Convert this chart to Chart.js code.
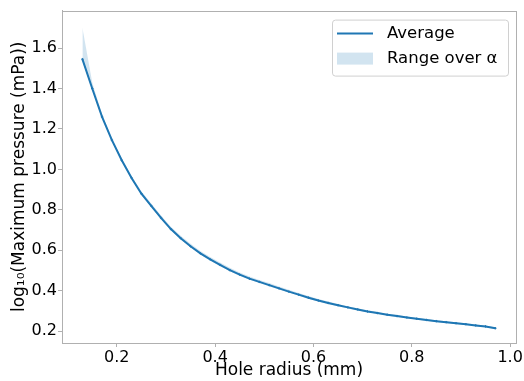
<!DOCTYPE html>
<html>
<head>
<meta charset="utf-8">
<script src="https://cdn.jsdelivr.net/npm/chart.js@4/dist/chart.umd.min.js"></script>
<style>
  html, body { margin: 0; padding: 0; background: #fff; }
  #wrap { width: 524px; height: 381px; position: relative; }
</style>
</head>
<body>
<div id="wrap"><canvas id="c" width="524" height="381"></canvas></div>
<script>
// ---- data ----
const radius = [0.13,0.15,0.17,0.19,0.21,0.23,0.25,0.27,0.29,0.31,0.33,0.35,0.37,0.39,0.41,0.43,0.45,0.47,0.49,0.51,0.53,0.55,0.57,0.59,0.61,0.63,0.65,0.67,0.69,0.71,0.73,0.75,0.77,0.79,0.81,0.83,0.85,0.87,0.89,0.91,0.93,0.95,0.97];
const average = [1.545,1.40,1.26,1.145,1.045,0.958,0.88,0.82,0.76,0.705,0.66,0.62,0.585,0.555,0.528,0.502,0.48,0.46,0.444,0.428,0.412,0.396,0.381,0.366,0.352,0.34,0.329,0.318,0.308,0.298,0.29,0.282,0.275,0.268,0.262,0.256,0.25,0.245,0.24,0.235,0.229,0.224,0.215];
const rangeUpper = [1.70,1.43,1.272,1.155,1.055,0.968,0.892,0.832,0.772,0.717,0.672,0.632,0.597,0.567,0.540,0.514,0.491,0.471,0.454,0.438,0.421,0.405,0.389,0.374,0.359,0.347,0.335,0.324,0.314,0.304,0.295,0.287,0.280,0.273,0.267,0.261,0.255,0.250,0.245,0.240,0.234,0.229,0.220];
const rangeLower = [1.535,1.392,1.253,1.139,1.039,0.952,0.874,0.814,0.754,0.699,0.654,0.614,0.579,0.549,0.522,0.497,0.475,0.455,0.439,0.423,0.407,0.391,0.376,0.361,0.347,0.335,0.324,0.313,0.303,0.294,0.286,0.278,0.271,0.264,0.258,0.252,0.246,0.241,0.236,0.231,0.225,0.220,0.211];
const xTicks = [0.2,0.4,0.6,0.8,1.0];
const yTicks = [0.2,0.4,0.6,0.8,1.0,1.2,1.4,1.6];
const legendLabels = ['Average','Range over \u03B1'];

const blue = '#1f77b4';
const bandColor = 'rgba(31,119,180,0.2)';
const spine = '#b0b0b0';
const font = "'DejaVu Sans', sans-serif";

const pts = (ys) => radius.map((x, i) => ({x: x, y: ys[i]}));

const frame = {
  id: 'frame',
  afterDraw(chart) {
    const {ctx, chartArea: a} = chart;
    ctx.save();
    ctx.strokeStyle = spine;
    ctx.lineWidth = 1;
    ctx.strokeRect(Math.round(a.left) + 0.5, Math.round(a.top) + 0.5,
                   Math.round(a.right - a.left), Math.round(a.bottom - a.top));
    // legend (matplotlib style)
    const bx = a.right - 184, by = a.top + 9, bw = 176, bh = 56;
    ctx.fillStyle = 'rgba(255,255,255,0.8)';
    ctx.strokeStyle = '#d0d0d0';
    ctx.beginPath();
    ctx.roundRect(bx + 0.5, by + 0.5, bw, bh, 3);
    ctx.fill(); ctx.stroke();
    ctx.strokeStyle = blue; ctx.lineWidth = 2;
    ctx.beginPath(); ctx.moveTo(bx + 5, by + 14); ctx.lineTo(bx + 41, by + 14); ctx.stroke();
    ctx.fillStyle = bandColor;
    ctx.fillRect(bx + 5, by + 33, 36, 12);
    ctx.fillStyle = '#000';
    ctx.font = "16.5px " + font;
    ctx.textBaseline = 'middle';
    ctx.fillText(legendLabels[0], bx + 55, by + 14);
    ctx.fillText(legendLabels[1], bx + 55, by + 39);
    ctx.restore();
  }
};

new Chart(document.getElementById('c'), {
  type: 'line',
  data: {
    datasets: [
      { label: 'lower', data: pts(rangeLower), borderWidth: 0, pointRadius: 0, borderColor: 'rgba(0,0,0,0)', fill: false, tension: 0 },
      { label: legendLabels[1], data: pts(rangeUpper), borderWidth: 0, pointRadius: 0, borderColor: 'rgba(0,0,0,0)', backgroundColor: bandColor, fill: '-1', tension: 0 },
      { label: legendLabels[0], data: pts(average), borderColor: blue, backgroundColor: blue, borderWidth: 2, pointRadius: 1.2, pointStyle: 'cross', pointBorderWidth: 1, pointBorderColor: blue, fill: false, tension: 0 }
    ]
  },
  plugins: [frame],
  options: {
    responsive: false,
    animation: false,
    devicePixelRatio: 1,
    layout: { padding: { top: 5, right: 8, left: 0, bottom: 0 } },
    plugins: { legend: { display: false }, tooltip: { enabled: false } },
    scales: {
      x: {
        type: 'linear', min: 0.0885, max: 1.012,
        afterBuildTicks(s) { s.ticks = xTicks.map(v => ({value: v})); },
        afterFit(s) { s.height = 38; },
        ticks: { includeBounds: false, color: '#000', font: { family: font, size: 16 }, padding: 1, maxRotation: 0,
                 callback: v => Number(v).toFixed(1) },
        grid: { drawOnChartArea: false, color: spine, tickLength: 4, tickColor: spine },
        border: { color: spine },
        title: { display: true, text: 'Hole radius (mm)', color: '#000', font: { family: font, size: 17 }, padding: { top: -4, bottom: 0 } }
      },
      y: {
        type: 'linear', min: 0.142, max: 1.785,
        afterBuildTicks(s) { s.ticks = yTicks.map(v => ({value: v})); },
        afterFit(s) { s.width = 62; },
        ticks: { includeBounds: false, color: '#000', font: { family: font, size: 16 }, padding: 1,
                 callback: v => Number(v).toFixed(1) },
        grid: { drawOnChartArea: false, color: spine, tickLength: 4, tickColor: spine },
        border: { color: spine },
        title: { display: true, text: 'log\u2081\u2080(Maximum pressure (mPa))', color: '#000', font: { family: font, size: 17 }, padding: { top: 9, bottom: 0 } }
      }
    }
  }
});
</script>
</body>
</html>
